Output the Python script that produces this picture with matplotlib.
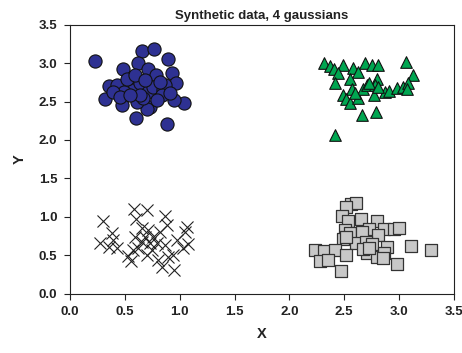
import matplotlib
matplotlib.use("Agg")
import matplotlib.pyplot as plt

plt.rcParams['font.family'] = ['Liberation Sans', 'DejaVu Sans']

# cluster 1: blue circles
circ_x = [0.23, 0.66, 0.77, 0.89, 0.48, 0.62, 0.71, 0.78, 0.93, 0.97, 0.36, 0.43,
          0.32, 0.47, 0.60, 0.88, 1.04, 0.95, 0.73, 0.70, 0.57, 0.57, 0.64, 0.71,
          0.76, 0.85, 0.87, 0.84, 0.79, 0.61, 0.49, 0.39, 0.52, 0.67, 0.64, 0.59,
          0.68, 0.82, 0.91, 0.46, 0.55]
circ_y = [3.03, 3.16, 3.19, 3.05, 2.92, 3.00, 2.92, 2.84, 2.87, 2.74, 2.70, 2.72,
          2.53, 2.45, 2.28, 2.21, 2.48, 2.52, 2.43, 2.40, 2.82, 2.65, 2.74, 2.62,
          2.69, 2.65, 2.71, 2.58, 2.52, 2.49, 2.62, 2.62, 2.80, 2.54, 2.58, 2.84,
          2.78, 2.75, 2.61, 2.56, 2.58]

# cluster 2: green triangles
tri_x = [2.32, 2.37, 2.41, 2.49, 2.58, 2.63, 2.69, 2.75, 2.81, 3.06, 3.13, 2.44,
         2.42, 2.55, 2.57, 2.49, 2.52, 2.55, 2.63, 2.67, 2.71, 2.80, 2.78, 2.77,
         2.87, 2.91, 2.98, 3.04, 3.08, 3.07, 2.66, 2.79, 2.42, 2.73, 2.81, 2.60]
tri_y = [3.00, 2.96, 2.93, 2.98, 2.94, 2.88, 3.00, 2.98, 2.98, 3.01, 2.84, 2.87,
         2.74, 2.79, 2.66, 2.58, 2.53, 2.48, 2.54, 2.66, 2.71, 2.79, 2.71, 2.58,
         2.62, 2.64, 2.67, 2.69, 2.74, 2.66, 2.33, 2.37, 2.06, 2.74, 2.69, 2.61]

# cluster 3: black crosses
x_x = [0.30, 0.58, 0.70, 0.87, 0.60, 1.07, 1.05, 0.38, 0.39, 0.27, 0.36, 0.43,
       0.53, 0.56, 0.59, 0.66, 0.71, 0.76, 0.82, 0.79, 0.75, 0.70, 0.80, 0.89,
       0.94, 0.84, 0.95, 0.98, 1.08, 1.03, 0.62, 0.88, 0.68, 0.73, 0.87, 0.57, 0.66]
x_y = [0.95, 1.10, 1.09, 1.01, 0.97, 0.87, 0.80, 0.79, 0.70, 0.66, 0.61, 0.60,
       0.49, 0.43, 0.74, 0.67, 0.83, 0.74, 0.80, 0.66, 0.57, 0.51, 0.44, 0.48,
       0.51, 0.35, 0.31, 0.70, 0.65, 0.60, 0.60, 0.90, 0.74, 0.66, 0.64, 0.57, 0.85]

# cluster 4: gray squares
sq_x = [2.56, 2.61, 2.52, 2.48, 2.53, 2.65, 2.80, 2.73, 2.86, 2.95, 3.00, 2.51,
        2.55, 2.66, 2.81, 2.49, 2.61, 2.70, 2.75, 2.89, 3.11, 3.29, 2.23, 2.32,
        2.42, 2.28, 2.35, 2.52, 2.71, 2.80, 2.86, 2.85, 2.98, 2.47, 2.67, 2.73, 2.52]
sq_y = [1.17, 1.18, 1.13, 1.01, 0.95, 0.97, 0.95, 0.84, 0.84, 0.84, 0.85, 0.83,
        0.79, 0.80, 0.77, 0.71, 0.66, 0.67, 0.65, 0.61, 0.62, 0.57, 0.57, 0.56,
        0.57, 0.42, 0.44, 0.51, 0.53, 0.48, 0.53, 0.47, 0.39, 0.29, 0.58, 0.60, 0.74]

ticks = [0, 0.5, 1.0, 1.5, 2.0, 2.5, 3.0, 3.5]
tick_labels = ["0.0", "0.5", "1.0", "1.5", "2.0", "2.5", "3.0", "3.5"]

fig = plt.figure(figsize=(4.62, 3.53), dpi=100)
ax = fig.add_axes([0.1515, 0.168, 0.831, 0.762])

ax.scatter(circ_x, circ_y, s=90, marker="o", facecolor="#2e3192",
           edgecolor="#111111", linewidths=0.8, zorder=3)
ax.scatter(tri_x, tri_y, s=70, marker="^", facecolor="#00a651",
           edgecolor="#111111", linewidths=0.8, zorder=3)
ax.scatter(x_x, x_y, s=75, marker="x", color="#222222", linewidths=0.8, zorder=3)
ax.scatter(sq_x, sq_y, s=65, marker="s", facecolor="#c8c8c8",
           edgecolor="#333333", linewidths=0.9, zorder=3)

ax.set_xlim(0, 3.5)
ax.set_ylim(0, 3.5)
ax.set_xticks(ticks)
ax.set_yticks(ticks)
ax.set_xticklabels(tick_labels)
ax.set_yticklabels(tick_labels)
ax.tick_params(direction="out", length=4, width=0.8, labelsize=9.5, colors="#222222",
               pad=5)
for lab in ax.get_xticklabels() + ax.get_yticklabels():
    lab.set_fontweight("bold")
for sp in ax.spines.values():
    sp.set_linewidth(0.8)
    sp.set_color("#222222")

ax.set_xlabel("X", fontsize=10.5, fontweight="bold", labelpad=6, color="#222222")
ax.set_ylabel("Y", fontsize=10.5, fontweight="bold", labelpad=9, color="#222222")
ax.set_title("Synthetic data, 4 gaussians", fontsize=9.5, fontweight="bold", pad=4,
             color="#222222")

fig.savefig("out.png", dpi=100, facecolor="white")
